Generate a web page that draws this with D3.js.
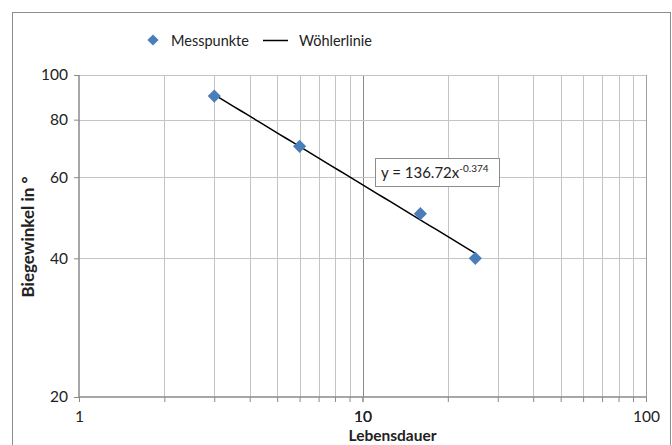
<!DOCTYPE html>
<html>
<head>
<meta charset="utf-8">
<script src="https://cdn.jsdelivr.net/npm/d3@7"></script>
<style>
  body { margin: 0; background: #fff; }
  text { font-family: Lato, "Open Sans", sans-serif; fill: #222; }
</style>
</head>
<body>
<div id="chart"></div>
<script>
// Messpunkte (Lebensdauer, Biegewinkel)
const lebensdauer = [3, 6, 16, 25];
const biegewinkel = [90, 70, 50, 40];
// Wöhlerlinie y = a * x^b
const fitA = 136.72;
const fitB = -0.374;
const fitRange = [3, 25];
const xTickValues = [1, 10, 100];
const xGridValues = [2, 3, 4, 5, 6, 7, 8, 9, 10, 20, 30, 40, 50, 60, 70, 80, 90];
const yTickValues = [20, 40, 60, 80, 100];

const W = 672, H = 445;
const margin = { top: 75, right: 26, bottom: 48, left: 79 };
const width = W - margin.left - margin.right;
const height = H - margin.top - margin.bottom;

const svgRoot = d3.select('#chart').append('svg')
  .attr('width', W)
  .attr('height', H);

// outer chart border
svgRoot.append('rect')
  .attr('x', 12.5).attr('y', 12.5)
  .attr('width', 658).attr('height', 440)
  .attr('fill', 'none')
  .attr('stroke', '#8c8c8c')
  .attr('stroke-width', 1);

const svg = svgRoot.append('g')
  .attr('transform', `translate(${margin.left}, ${margin.top})`);

const x = d3.scaleLog().domain([1, 100]).range([0, width]);
const y = d3.scaleLog().domain([20, 100]).range([height, 0]);

// grid lines
svg.append('g')
  .selectAll('line')
  .data(xGridValues)
  .join('line')
  .attr('x1', d => Math.round(x(d)) + 0.5)
  .attr('x2', d => Math.round(x(d)) + 0.5)
  .attr('y1', 0)
  .attr('y2', height)
  .attr('stroke', d => d === 10 ? '#8a8a8a' : '#c4c4c4')
  .attr('stroke-width', 1);

svg.append('g')
  .selectAll('line')
  .data(yTickValues.filter(d => d !== 20))
  .join('line')
  .attr('x1', 0)
  .attr('x2', width)
  .attr('y1', d => Math.round(y(d)) + 0.5)
  .attr('y2', d => Math.round(y(d)) + 0.5)
  .attr('stroke', '#c4c4c4')
  .attr('stroke-width', 1);

// right border of plot area
svg.append('line')
  .attr('x1', width + 0.5).attr('x2', width + 0.5)
  .attr('y1', 0).attr('y2', height)
  .attr('stroke', '#a0a0a0');

// axes
const xAxis = d3.axisBottom(x)
  .tickValues(xTickValues.concat(xGridValues))
  .tickFormat(d => xTickValues.includes(d) ? d : '')
  .tickSize(5)
  .tickPadding(9);

const gX = svg.append('g')
  .attr('transform', `translate(0, ${height})`)
  .call(xAxis);

const yAxis = d3.axisLeft(y)
  .tickValues(yTickValues)
  .tickFormat(d3.format('d'))
  .tickSize(5)
  .tickPadding(6);

const gY = svg.append('g')
  .call(yAxis);

[gX, gY].forEach(g => {
  g.select('.domain').attr('stroke', '#8a8a8a').attr('stroke-width', 1.5);
  g.selectAll('.tick line').attr('stroke', '#8a8a8a');
  g.selectAll('.tick text')
    .attr('font-size', 15.5)
    .attr('font-family', 'Lato, "Open Sans", sans-serif')
    .attr('fill', '#222');
});
gX.select('.domain').attr('d', `M0,0H${width}`);
gY.select('.domain').attr('d', `M0,${height}V0`);

// trend line
const fitXs = d3.range(0, 41).map(i => fitRange[0] * Math.pow(fitRange[1] / fitRange[0], i / 40));
const line = d3.line()
  .x(d => x(d))
  .y(d => y(fitA * Math.pow(d, fitB)));

svg.append('path')
  .datum(fitXs)
  .attr('fill', 'none')
  .attr('stroke', '#000')
  .attr('stroke-width', 1.5)
  .attr('d', line);

// points
const points = lebensdauer.map((d, i) => ({ x: d, y: biegewinkel[i] }));
const diamond = d3.symbol().type(d3.symbolDiamond2).size(110);

svg.append('g')
  .selectAll('path')
  .data(points)
  .join('path')
  .attr('transform', d => `translate(${x(d.x)}, ${y(d.y)})`)
  .attr('d', diamond)
  .attr('fill', '#4a7ebb');

// equation label
const eq = svg.append('g')
  .attr('transform', `translate(${375 - margin.left}, ${158 - margin.top})`);
eq.append('rect')
  .attr('x', 0.5).attr('y', 0.5)
  .attr('width', 124).attr('height', 28)
  .attr('fill', '#fff')
  .attr('stroke', '#8c8c8c');
const eqText = eq.append('text')
  .attr('x', 6).attr('y', 20)
  .attr('font-size', 15);
eqText.append('tspan').text('y = 136.72x');
eqText.append('tspan')
  .attr('dy', -6)
  .attr('font-size', 10)
  .text('-0.374');

// axis titles
svgRoot.append('text')
  .attr('x', margin.left + x(10) + 30)
  .attr('y', 441)
  .attr('text-anchor', 'middle')
  .attr('font-size', 15.5)
  .attr('font-weight', 'bold')
  .text('Lebensdauer');

svgRoot.append('text')
  .attr('transform', `translate(34, 237) rotate(-90)`)
  .attr('text-anchor', 'middle')
  .attr('font-size', 17)
  .attr('font-weight', 'bold')
  .text('Biegewinkel in °');

// legend
const legend = svgRoot.append('g');
legend.append('path')
  .attr('transform', 'translate(153, 40)')
  .attr('d', d3.symbol().type(d3.symbolDiamond2).size(80))
  .attr('fill', '#4a7ebb');
legend.append('text')
  .attr('x', 171).attr('y', 46)
  .attr('font-size', 14.5)
  .text('Messpunkte');
legend.append('line')
  .attr('x1', 263).attr('x2', 288)
  .attr('y1', 40.5).attr('y2', 40.5)
  .attr('stroke', '#000')
  .attr('stroke-width', 1.5);
legend.append('text')
  .attr('x', 299).attr('y', 46)
  .attr('font-size', 14.5)
  .text('Wöhlerlinie');
</script>
</body>
</html>
